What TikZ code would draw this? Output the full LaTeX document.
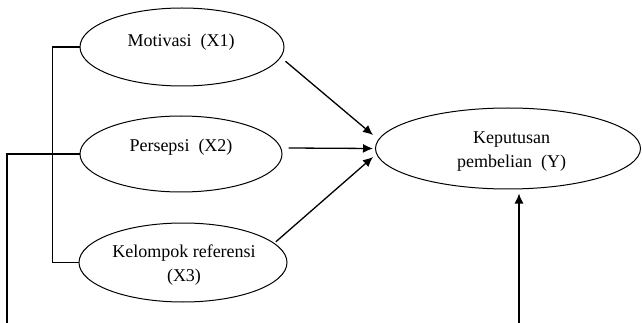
\documentclass[tikz,border=0pt]{standalone}
\usepackage{fontspec}
\setmainfont{Liberation Serif}
\usetikzlibrary{shapes.geometric,arrows.meta}
\begin{document}
\begin{tikzpicture}[x=1pt,y=-1pt,
  ell/.style={draw,ellipse,inner sep=0pt,line width=1pt},
  txt/.style={inner sep=0pt,font=\fontsize{18}{24}\selectfont,align=center},
  link/.style={line width=1.1pt},
  arr/.style={line width=1.3pt,-{Latex[length=10pt,width=9pt]}}]
\useasboundingbox (0,0) rectangle (642,323);
% ellipses
\node[ell,minimum width=204pt,minimum height=78pt] (m) at (182,47) {};
\node[ell,minimum width=202pt,minimum height=76pt] (p) at (181,154) {};
\node[ell,minimum width=208pt,minimum height=79pt] (k) at (183,262.5) {};
\node[ell,minimum width=265pt,minimum height=81pt] (y) at (508,148.5) {};
% texts
\node[txt,anchor=base] (mt) at (181,47) {Motivasi\ \ (X1)};
\node[txt,anchor=base] (pt) at (181,152) {Persepsi\ \ (X2)};
\node[txt] (kt) at (184,265) {Kelompok referensi\\(X3)};
\node[txt] (yt) at (511.5,152) {Keputusan\\pembelian\ \ (Y)};
% bracket lines
\coordinate (c1) at (7,323);
\coordinate (c2) at (519,323);
\draw[link] (m.west) -- ++(-27,0) |- (k.west);
\draw[link] (p.west) -| (c1);
% arrows
\draw[arr,shorten <=6pt] (m.-6) -- ([shift={(-2,-13.5)}]y.west);
\draw[arr] ([shift={(6,-6)}]p.east) -- ([shift={(-2,0)}]y.west);
\draw[arr,shorten <=2pt] (k.12) -- ([shift={(-2,8.5)}]y.west);
\draw[arr,shorten >=4pt] (c2) -- (c2 |- y.south);
\end{tikzpicture}
\end{document}
